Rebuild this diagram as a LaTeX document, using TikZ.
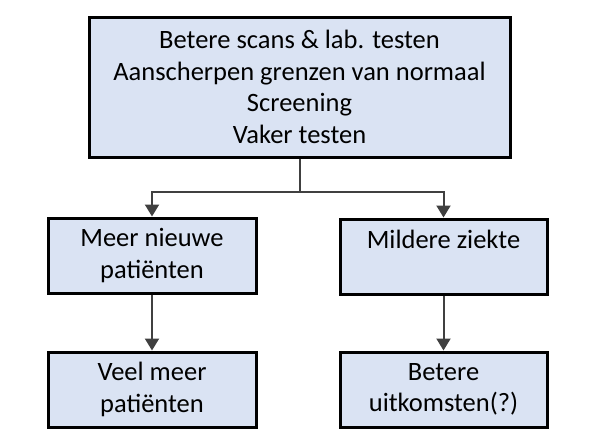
\documentclass[tikz,border=0pt]{standalone}
\usepackage{fontspec}
\setmainfont{Carlito}
\usetikzlibrary{arrows.meta}
\definecolor{boxfill}{HTML}{DAE3F3}
\definecolor{arrowgray}{HTML}{404040}
\tikzset{
  flowbox/.style={draw=black, line width=3pt, fill=boxfill, align=center, inner sep=0pt,
    font=\fontsize{26.5}{31.5}\selectfont, text=black},
  conn/.style={draw=arrowgray, line width=2pt},
  arr/.style={conn, -{Triangle[length=12pt,width=14pt]}}
}
\begin{document}
\begin{tikzpicture}[x=1pt,y=-1pt]
\useasboundingbox (0,0) rectangle (599,440);
\node[flowbox, minimum width=421pt, minimum height=140pt] (top) at (299.5,87)
  {Betere scans \& lab. testen\\Aanscherpen grenzen van normaal\\Screening\\Vaker testen};
\node[flowbox, minimum width=208pt, minimum height=75pt] (lm) at (152,255.5)
  {Meer nieuwe\\patiënten};
\node[flowbox, minimum width=207pt, minimum height=75pt] (rm) at (443.5,256.5)
  {Mildere ziekte\\[-6pt]\strut};
\node[flowbox, minimum width=208pt, minimum height=75pt] (lb) at (152,389.5)
  {Veel meer\\patiënten};
\node[flowbox, minimum width=207pt, minimum height=75pt] (rb) at (443.5,389.5)
  {Betere\\uitkomsten(?)};
\draw[conn] (top.south) -- ++(0,33) coordinate (j);
\draw[arr] (j) -| (lm.north);
\draw[arr] (j) -| (rm.north);
\draw[arr] (lm.south) -- (lb.north);
\draw[arr] (rm.south) -- (rb.north);
\end{tikzpicture}
\end{document}
